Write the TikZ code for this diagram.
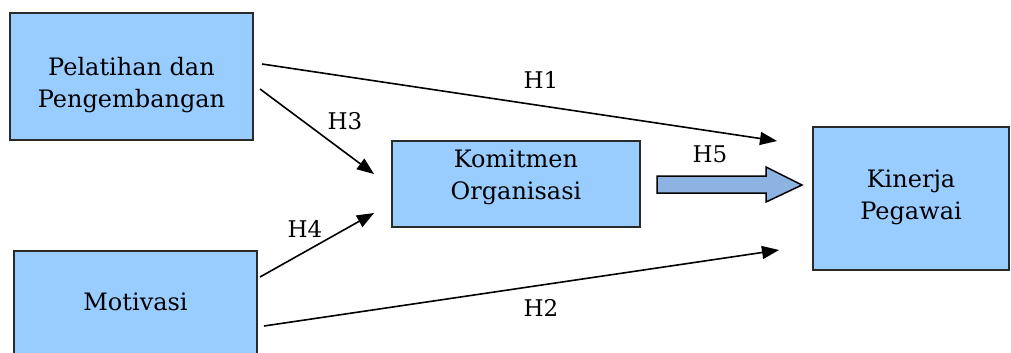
\documentclass[tikz,border=0pt]{standalone}
\usepackage{fontspec}
\setmainfont{DejaVu Serif}
\usetikzlibrary{arrows.meta}
\definecolor{boxblue}{HTML}{99CCFF}
\definecolor{arrblue}{HTML}{8DB3E2}
\definecolor{edge}{HTML}{2A2A2A}
\tikzset{
  varbox/.style={draw=edge, line width=1.3pt, fill=boxblue, rectangle, inner sep=0pt},
  vartext/.style={align=center, font=\fontsize{24}{32}\selectfont, inner sep=0pt},
  hlabel/.style={font=\fontsize{23}{26}\selectfont, inner sep=0pt},
  arr/.style={line width=1.6pt, -{Triangle[length=17pt,width=13pt]}},
}
\begin{document}
\begin{tikzpicture}[x=1pt,y=-1pt]
\clip (0,0) rectangle (1011,353);
\fill[white] (0,0) rectangle (1011,353);
% boxes
\node[varbox, minimum width=243pt, minimum height=127pt] (pp) at (131.5,76.5) {};
\node[varbox, minimum width=243pt, minimum height=110pt] (mo) at (135.5,306) {};
\node[varbox, minimum width=248pt, minimum height=86pt] (ko) at (516,184) {};
\node[varbox, minimum width=196pt, minimum height=143pt] (ki) at (911,198.5) {};
% texts
\node[vartext] (ppt) at (131.5,85) {Pelatihan dan\\Pengembangan};
\node[vartext] (mot) at (135.5,302) {Motivasi};
\node[vartext] (kot) at (516,177) {Komitmen\\Organisasi};
\node[vartext] (kit) at (911,197) {Kinerja\\Pegawai};
% connector ends
\coordinate (h1s) at (262,64);
\coordinate (h1e) at (777,141);
\coordinate (h3s) at (260,89);
\coordinate (h3e) at (374,174);
\coordinate (h4s) at (260,277);
\coordinate (h4e) at (374,213);
\coordinate (h2s) at (264,326);
\coordinate (h2e) at (779,250);
\draw[arr] (h1s) -- (h1e);
\draw[arr] (h3s) -- (h3e);
\draw[arr] (h4s) -- (h4e);
\draw[arr] (h2s) -- (h2e);
% block arrow H5
\draw[line width=1.5pt, fill=arrblue, line join=miter]
  (657,176) -- (766,176) -- (766,167) -- (802,185) -- (766,202) -- (766,193) -- (657,193) -- cycle;
% labels
\node[hlabel] (l1) at (541,80) {H1};
\node[hlabel] (l3) at (345,121) {H3};
\node[hlabel] (l4) at (305,229) {H4};
\node[hlabel] (l2) at (541,308) {H2};
\node[hlabel] (l5) at (710,154) {H5};
\end{tikzpicture}
\end{document}
